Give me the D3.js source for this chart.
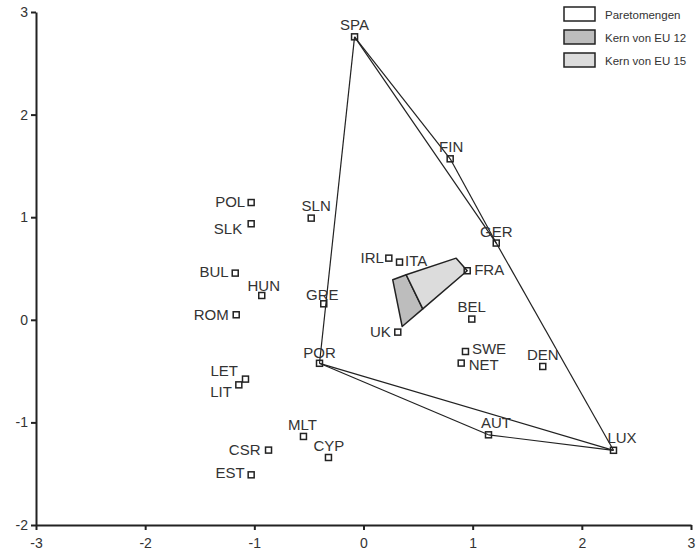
<!DOCTYPE html>
<html>
<head>
<meta charset="utf-8">
<script src="https://cdn.jsdelivr.net/npm/d3@7"></script>
<style>
  html, body { margin: 0; padding: 0; background: #fff; }
  svg { display: block; font-family: "Liberation Sans", Arial, Helvetica, sans-serif; }
</style>
</head>
<body>
<svg id="chart" width="697" height="559"></svg>
<script>
// ---------- DATA ----------
const countries = ["SPA","FIN","GER","FRA","ITA","IRL","UK","BEL","SWE","NET","DEN","AUT","LUX",
  "POR","GRE","SLN","POL","SLK","BUL","HUN","ROM","LET","LIT","MLT","CYP","CSR","EST"];
const xValues = [-0.082, 0.794, 1.216, 0.950, 0.330, 0.232, 0.314, 0.992, 0.934, 0.895, 1.642, 1.145, 2.290,
  -0.403, -0.364, -0.479, -1.029, -1.029, -1.175, -0.932, -1.166, -1.081, -1.142, -0.550, -0.321, -0.870, -1.029];
const yValues = [2.758, 1.569, 0.748, 0.478, 0.562, 0.601, -0.120, 0.007, -0.309, -0.422, -0.455, -1.121, -1.272,
  -0.424, 0.156, 0.991, 1.143, 0.936, 0.455, 0.237, 0.049, -0.578, -0.634, -1.137, -1.342, -1.270, -1.511];

// Pareto set edges (pairs of countries)
const paretoEdges = [["SPA","FIN"],["FIN","GER"],["SPA","GER"],["GER","LUX"],["SPA","POR"],
  ["POR","LUX"],["POR","AUT"],["AUT","LUX"]];

// Core polygons
const coreEU12X = [0.268, 0.391, 0.543, 0.354];
const coreEU12Y = [0.390, 0.439, 0.107, -0.065];
const coreEU15X = [0.391, 0.849, 0.950, 0.543];
const coreEU15Y = [0.439, 0.601, 0.478, 0.107];

const xTicks = [-3, -2, -1, 0, 1, 2, 3];
const yTicks = [-2, -1, 0, 1, 2, 3];
const legendLabels = ["Paretomengen", "Kern von EU 12", "Kern von EU 15"];

// ---------- LAYOUT ----------
const colors = { eu12: "#bdbdbd", eu15: "#dcdcdc", pareto: "#ffffff", ink: "#222", text: "#333" };
// label placement: [anchor, dx, dy] relative to marker centre (pixels)
const labelLayout = {
  SPA:["middle",0,-7], FIN:["middle",1,-6.5], GER:["middle",0,-6], FRA:["start",7,4], ITA:["start",5.5,3.7],
  IRL:["end",-5,5], UK:["end",-7,4.5], BEL:["middle",0,-7.5], SWE:["start",6.5,2.5], NET:["start",7.5,6.7],
  DEN:["middle",0,-6.7], AUT:["middle",7.5,-7.3], LUX:["middle",8.5,-7], POR:["middle",0,-5.7],
  GRE:["middle",-1.5,-4], SLN:["middle",5,-6.7], POL:["end",-6,4], SLK:["end",-9,10], BUL:["end",-6.5,4],
  HUN:["middle",2,-4], ROM:["end",-7.5,5], LET:["end",-7.5,-3.3], LIT:["end",-7,11.7], MLT:["middle",-1,-6],
  CYP:["middle",0.5,-6], CSR:["end",-8,4.7], EST:["end",-6.5,2.7]
};

const svg = d3.select("#chart");
const x = d3.scaleLinear().domain([-3, 3]).range([36, 691]);
const y = d3.scaleLinear().domain([-2, 3]).range([525, 12]);

const pts = countries.map((c, i) => ({ name: c, x: xValues[i], y: yValues[i] }));
const byName = Object.fromEntries(pts.map(p => [p.name, p]));

// core polygons
const poly = (xs, ys) => xs.map((v, i) => [x(v), y(ys[i])].join(",")).join(" ");
svg.append("polygon").attr("points", poly(coreEU12X, coreEU12Y))
  .attr("fill", colors.eu12).attr("stroke", colors.ink).attr("stroke-width", 1.5).attr("stroke-linejoin", "round");
svg.append("polygon").attr("points", poly(coreEU15X, coreEU15Y))
  .attr("fill", colors.eu15).attr("stroke", colors.ink).attr("stroke-width", 1.5).attr("stroke-linejoin", "round");

// pareto edges
svg.append("g").selectAll("line").data(paretoEdges).join("line")
  .attr("x1", d => x(byName[d[0]].x)).attr("y1", d => y(byName[d[0]].y))
  .attr("x2", d => x(byName[d[1]].x)).attr("y2", d => y(byName[d[1]].y))
  .attr("stroke", colors.ink).attr("stroke-width", 1.2);

// axes
const xAxis = svg.append("g").attr("transform", `translate(0,${y(-2)})`)
  .call(d3.axisBottom(x).tickValues(xTicks).tickSize(5).tickSizeOuter(0).tickFormat(d3.format("d")));
const yAxis = svg.append("g").attr("transform", `translate(${x(-3)},0)`)
  .call(d3.axisLeft(y).tickValues(yTicks).tickSize(5).tickSizeOuter(0).tickFormat(d3.format("d")));
[xAxis, yAxis].forEach(g => {
  g.select(".domain").attr("stroke", colors.ink).attr("stroke-width", 2);
  g.selectAll(".tick line").attr("stroke", colors.ink).attr("stroke-width", 2);
  g.selectAll(".tick text").attr("fill", colors.text).style("font-size", "14px")
    .style("font-family", "'Liberation Sans', Arial, sans-serif");
});
xAxis.selectAll(".tick text").attr("dy", "1.05em");
yAxis.selectAll(".tick text").attr("x", -8);
xAxis.selectAll("text").text(d => d < 0 ? "-" + Math.abs(d) : d);
yAxis.selectAll("text").text(d => d < 0 ? "-" + Math.abs(d) : d);

// markers
svg.append("g").selectAll("rect").data(pts).join("rect")
  .attr("x", d => x(d.x) - 3).attr("y", d => y(d.y) - 3)
  .attr("width", 6).attr("height", 6)
  .attr("fill", "none").attr("stroke", colors.ink).attr("stroke-width", 1.5);

// labels
svg.append("g").selectAll("text").data(pts).join("text")
  .attr("x", d => x(d.x) + labelLayout[d.name][1])
  .attr("y", d => y(d.y) + labelLayout[d.name][2])
  .attr("text-anchor", d => labelLayout[d.name][0])
  .attr("fill", colors.text).style("font-size", "15px")
  .text(d => d.name);

// legend
const legend = svg.append("g").attr("transform", "translate(564,7)");
const legendFills = [colors.pareto, colors.eu12, colors.eu15];
legendLabels.forEach((t, i) => {
  const g = legend.append("g").attr("transform", `translate(0,${i * 23})`);
  g.append("rect").attr("width", 31).attr("height", 14)
    .attr("fill", legendFills[i]).attr("stroke", colors.ink).attr("stroke-width", 1.5);
  g.append("text").attr("x", 41).attr("y", 11.5).attr("fill", colors.text)
    .style("font-size", "11.5px").text(t);
});
</script>
</body>
</html>
